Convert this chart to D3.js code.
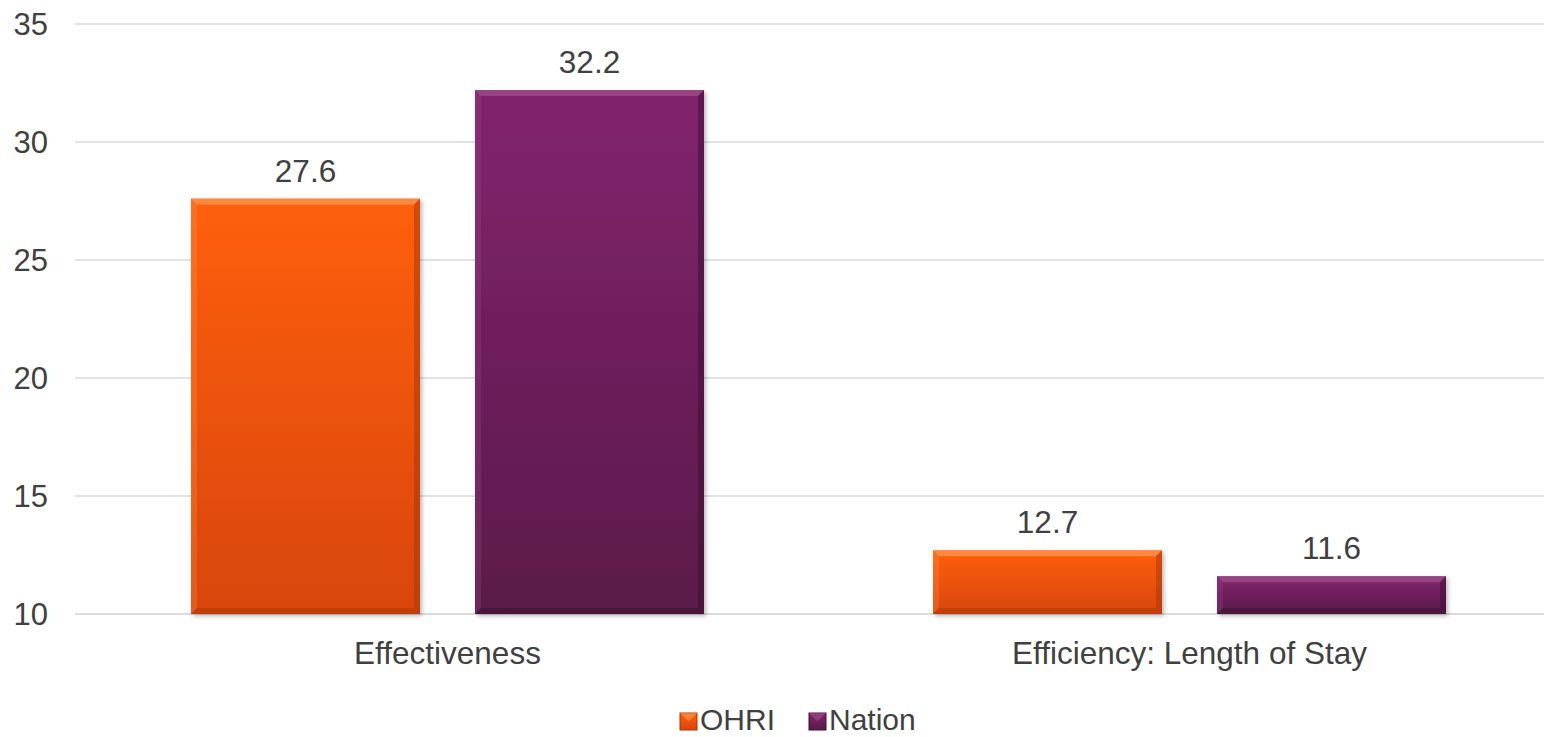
<!DOCTYPE html>
<html><head><meta charset="utf-8">
<script src="https://cdn.jsdelivr.net/npm/d3@7"></script>
<style>body{margin:0;background:#fff;}svg{display:block;font-family:"Liberation Sans",Arial,sans-serif;}</style>
</head><body><svg id="c" width="1544" height="737"></svg>
<script>
const categories = ["Effectiveness", "Efficiency: Length of Stay"];
const seriesNames = ["OHRI", "Nation"];
const ohri = [27.6, 12.7];
const nation = [32.2, 11.6];
const yTicks = [10, 15, 20, 25, 30, 35];
const colors = {
  OHRI: {top: "#ff5f0a", bottom: "#d8460a", light: "#ff9a55", dark: "#a83608"},
  Nation: {top: "#82236d", bottom: "#5a1a4a", light: "#a0508c", dark: "#3a0e30"}
};

const svg = d3.select("#c");
const defs = svg.append("defs");
seriesNames.forEach(s => {
  const g = defs.append("linearGradient").attr("id","g"+s).attr("x1",0).attr("y1",0).attr("x2",0).attr("y2",1);
  g.append("stop").attr("offset","0%").attr("stop-color",colors[s].top);
  g.append("stop").attr("offset","100%").attr("stop-color",colors[s].bottom);
});
const f = defs.append("filter").attr("id","sh").attr("x","-10%").attr("y","-10%").attr("width","130%").attr("height","130%");
f.append("feDropShadow").attr("dx",2).attr("dy",2).attr("stdDeviation",2).attr("flood-color","#000").attr("flood-opacity",0.28);

const y = d3.scaleLinear().domain([10,35]).range([614,24]);
const x0 = d3.scaleBand().domain(categories).range([76.5,1560.5]).padding(0);
const inner = 513;
const x1 = d3.scaleBand().domain(seriesNames)
  .range([(x0.bandwidth()-inner)/2,(x0.bandwidth()+inner)/2])
  .paddingInner(55/284).paddingOuter(0);

// gridlines
svg.append("g").selectAll("line").data(yTicks).join("line")
  .attr("x1",75).attr("x2",1544).attr("y1",d=>y(d)).attr("y2",d=>y(d))
  .attr("stroke",d=>d===10?"#d0d0d0":"#d9d9d9").attr("stroke-width",1.3);

// y tick labels
svg.append("g").selectAll("text").data(yTicks).join("text")
  .attr("x",48).attr("y",d=>y(d)).attr("dy","0.35em").attr("text-anchor","end")
  .attr("font-size",31).attr("fill","#404040").text(d=>d);

const data = [];
categories.forEach((c,i)=>{
  data.push({cat:c, s:"OHRI", v:ohri[i]});
  data.push({cat:c, s:"Nation", v:nation[i]});
});

const bev = 6;
const bars = svg.append("g").selectAll("g").data(data).join("g");
bars.each(function(d){
  const g = d3.select(this);
  const bx = x0(d.cat)+x1(d.s), bw = x1.bandwidth();
  const by = y(d.v), bh = y(10)-y(d.v);
  const c = colors[d.s];
  g.append("rect").attr("x",bx).attr("y",by).attr("width",bw).attr("height",bh)
    .attr("fill","url(#g"+d.s+")").attr("filter","url(#sh)");
  const x2 = bx+bw, y2 = by+bh;
  const b = Math.min(bev, bh/2);
  g.append("polygon").attr("points",[[bx,by],[x2,by],[x2-b,by+b],[bx+b,by+b]].join(" "))
    .attr("fill",c.light).attr("opacity",0.7);
  g.append("polygon").attr("points",[[bx,by],[bx+b,by+b],[bx+b,y2-b],[bx,y2]].join(" "))
    .attr("fill",c.light).attr("opacity",0.25);
  g.append("polygon").attr("points",[[x2,by],[x2,y2],[x2-b,y2-b],[x2-b,by+b]].join(" "))
    .attr("fill",c.dark).attr("opacity",0.5);
  g.append("polygon").attr("points",[[bx,y2],[x2,y2],[x2-b,y2-b],[bx+b,y2-b]].join(" "))
    .attr("fill",c.dark).attr("opacity",0.5);
  g.append("text").attr("x",bx+bw/2).attr("y",by-17).attr("text-anchor","middle")
    .attr("font-size",31.5).attr("fill","#404040").text(d.v.toFixed(1));
});

// category labels
svg.append("g").selectAll("text").data(categories).join("text")
  .attr("x",d=>x0(d)+x0.bandwidth()/2).attr("y",664).attr("text-anchor","middle")
  .attr("font-size",31.5).attr("fill","#404040").text(d=>d);

// legend
const legendX = [680, 809];
const lg = svg.append("g").selectAll("g").data(seriesNames).join("g")
  .attr("transform",(d,i)=>`translate(${legendX[i]},0)`);
lg.append("rect").attr("x",0).attr("y",713).attr("width",17).attr("height",17)
  .attr("fill",d=>`url(#g${d})`).attr("stroke",d=>colors[d].dark).attr("stroke-width",1);
lg.append("polygon").attr("points","0,713 17,713 8.5,721.5").attr("fill",d=>colors[d].light).attr("opacity",0.6);
lg.append("text").attr("x",20).attr("y",730).attr("font-size",30).attr("fill","#404040").text(d=>d);
</script></body></html>
